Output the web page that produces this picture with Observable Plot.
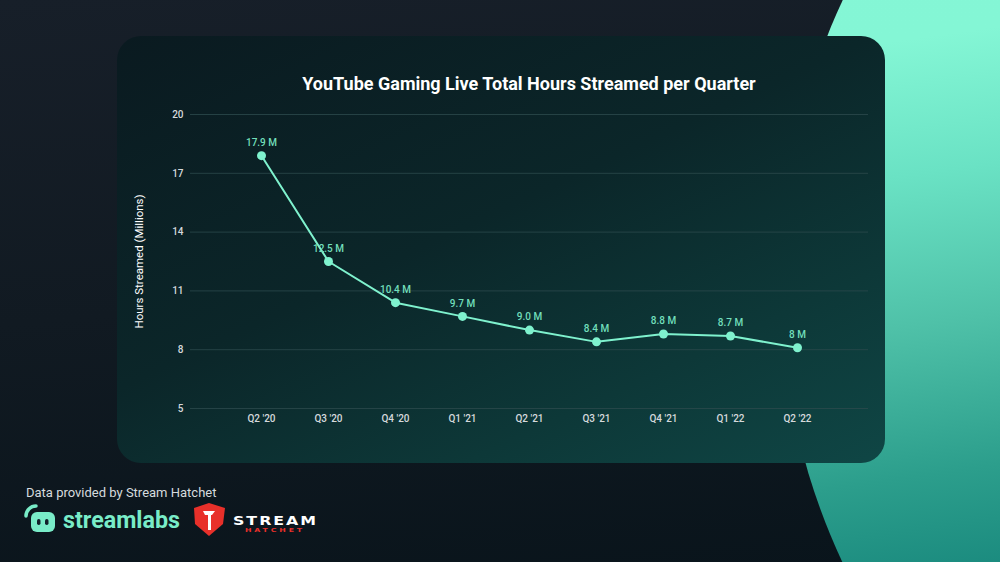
<!DOCTYPE html>
<html>
<head>
<meta charset="utf-8">
<script src="https://cdn.jsdelivr.net/npm/d3@7"></script>
<script src="https://cdn.jsdelivr.net/npm/@observablehq/plot@0.6"></script>
<style>
  html, body { margin: 0; padding: 0; }
  body {
    width: 1000px; height: 562px; overflow: hidden; position: relative;
    background: linear-gradient(175deg, #171f29 0%, #111a22 50%, #09141b 100%);
    font-family: Roboto, "Noto Sans", sans-serif;
  }
  #blob {
    position: absolute; left: 780px; top: -381px; width: 1325px; height: 1325px;
    border-radius: 50%;
    background: linear-gradient(172deg, #86f7d6 0%, #84f6d5 29%, #6ae2c4 38%, #4fc1a8 48%, #2c9e8c 58%, #1a8a7e 65%, #117a72 71%, #0f7069 100%);
  }
  #panel {
    position: absolute; left: 117px; top: 36px; width: 768px; height: 427px;
    border-radius: 24px;
    background: linear-gradient(155deg, #0a1a20 0%, #0b2629 45%, #0d3838 75%, #0f4645 100%);
  }
  #title {
    position: absolute; left: 117px; top: 73px; width: 824px; text-align: center;
    color: #ffffff; font-weight: 700; font-size: 18px;
  }
  #chart { position: absolute; left: 117px; top: 100px; }
  #footer {
    position: absolute; left: 26px; top: 485px; color: #d6dbde; font-size: 13px;
  }
  #logos { position: absolute; left: 22px; top: 502px; }
</style>
</head>
<body>
<div id="blob"></div>
<div id="panel"></div>
<div id="title">YouTube Gaming Live Total Hours Streamed per Quarter</div>
<div id="chart"></div>
<div id="footer">Data provided by Stream Hatchet</div>
<div id="logos">
<svg width="320" height="40" viewBox="0 0 320 40">
  <path d="M4 14 A10 10 0 0 1 14 4" fill="none" stroke="#79ecc8" stroke-width="3.5" stroke-linecap="round"/>
  <rect x="9" y="10" width="24" height="20" rx="6" fill="#79ecc8"/>
  <rect x="15" y="17" width="3.5" height="6" rx="1.7" fill="#12202a"/>
  <rect x="23" y="17" width="3.5" height="6" rx="1.7" fill="#12202a"/>
  <text x="41" y="26" fill="#79ecc8" font-family="Roboto, sans-serif" font-weight="700" font-size="23" textLength="117" lengthAdjust="spacingAndGlyphs">streamlabs</text>
  <path d="M172 6 L187 1 L203 6 L201 22 L187 34 L173 22 Z" fill="#e8302a"/>
  <path d="M181 9 L193 9 L190 13 L189 13 L189 28 L186 28 L186 13 L183 13 Z" fill="#ffffff"/>
  <text x="211" y="23" fill="#ffffff" font-family="'DejaVu Sans', sans-serif" font-weight="700" font-size="12" letter-spacing="1.5" textLength="85" lengthAdjust="spacingAndGlyphs">STREAM</text>
  <text x="223" y="30" fill="#e8302a" font-family="'DejaVu Sans', sans-serif" font-weight="700" font-size="5.5" letter-spacing="2" textLength="60" lengthAdjust="spacingAndGlyphs">HATCHET</text>
</svg>
</div>
<script>
const quarters = ["Q2 '20", "Q3 '20", "Q4 '20", "Q1 '21", "Q2 '21", "Q3 '21", "Q4 '21", "Q1 '22", "Q2 '22"];
const hours = [17.9, 12.5, 10.4, 9.7, 9.0, 8.4, 8.8, 8.7, 8.1];
const pointLabels = ["17.9 M", "12.5 M", "10.4 M", "9.7 M", "9.0 M", "8.4 M", "8.8 M", "8.7 M", "8 M"];
const yTicks = [5, 8, 11, 14, 17, 20];

const data = quarters.map((q, i) => ({quarter: q, value: hours[i], label: pointLabels[i]}));

const mint = "#7ff2ce";
const plot = Plot.plot({
  width: 768,
  height: 340,
  marginTop: 14,
  marginBottom: 32,
  marginLeft: 73,
  marginRight: 17,
  style: {background: "transparent", color: "#d5d9dc", fontFamily: "Roboto, sans-serif", fontSize: "10px", fontWeight: 500},
  x: {type: "point", domain: quarters, padding: 1, label: null, tickSize: 0, tickPadding: 6},
  y: {domain: [5, 20], ticks: yTicks, tickSize: 0, tickPadding: 7,
      label: "Hours Streamed (Millions)", labelAnchor: "center", labelOffset: 56, labelArrow: "none"},
  marks: [
    Plot.gridY(yTicks, {stroke: "#2c4a4c", strokeOpacity: 0.8, strokeWidth: 1}),
    Plot.line(data, {x: "quarter", y: "value", stroke: mint, strokeWidth: 2}),
    Plot.dot(data, {x: "quarter", y: "value", r: 4.5, fill: mint}),
    Plot.text(data, {x: "quarter", y: "value", text: "label", dy: -13, fill: "#72dfbb", fontSize: 10, fontWeight: 500})
  ]
});
plot.querySelectorAll("g[aria-label='y-axis label'] text").forEach(t => {
  t.setAttribute("fill", "#ffffff"); t.style.fontSize = "11.5px"; t.style.fontWeight = "400";
});
plot.querySelectorAll("g[aria-label='y-axis label']").forEach(g => {
  g.setAttribute("fill", "#ffffff"); g.setAttribute("font-weight", "400");
});
document.getElementById("chart").appendChild(plot);
</script>
</body>
</html>
